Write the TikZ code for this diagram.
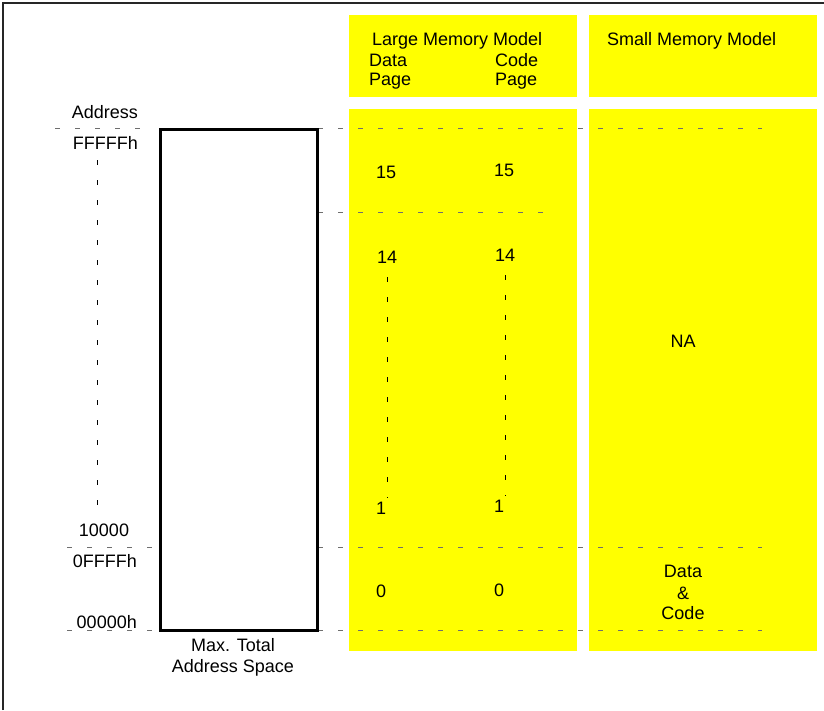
\documentclass[tikz,border=0pt]{standalone}
\usepackage{fontspec}
\setmainfont{Liberation Sans}
\definecolor{ylw}{RGB}{255,255,0}
\definecolor{dashgray}{RGB}{110,110,110}
\begin{document}
\begin{tikzpicture}[x=1pt,y=-1pt,
  txt/.style={inner sep=0pt,font=\fontsize{18}{21}\selectfont},
  hdash/.style={draw=dashgray,line width=1pt,dash pattern=on 5pt off 15pt},
  vdot/.style={draw=black,line width=1pt,dash pattern=on 5pt off 15pt}]
\useasboundingbox (0,0) rectangle (824,710);
% outer frame (top and left)
\draw[line width=2pt,black!85] (3,710) -- (3,3) -- (824,3);
% yellow panels
\fill[ylw] (349,15) rectangle (577,97);
\fill[ylw] (589,15) rectangle (817,97);
\fill[ylw] (349,109) rectangle (577,651);
\fill[ylw] (589,109) rectangle (817,651);
% coordinates for dashed guide lines
\coordinate (t0) at (55,128);   \coordinate (t1) at (145,128);
\coordinate (t2) at (318,128);  \coordinate (t3) at (762,128);
\coordinate (m2) at (318,212);  \coordinate (m3) at (545,212);
\coordinate (a0) at (67,547);   \coordinate (a1) at (152,547);
\coordinate (a2) at (318,547);  \coordinate (a3) at (762,547);
\coordinate (b0) at (67,630);   \coordinate (b1) at (152,630);
\coordinate (b2) at (318,630);  \coordinate (b3) at (762,630);
\draw[hdash] (t0) -- (t1);
\draw[hdash] (t2) -- (t3);
\draw[hdash] (m2) -- (m3);
\draw[hdash] (a0) -- (a1);
\draw[hdash] (a2) -- (a3);
\draw[hdash] (b0) -- (b1);
\draw[hdash] (b2) -- (b3);
% main box
\node[draw,line width=3pt,minimum width=157pt,minimum height=501pt,inner sep=0pt] (space) at (238.5,379.5) {};
% vertical dotted lines
\coordinate (v0) at (97,160);  \coordinate (v1) at (97,505);
\coordinate (d0) at (387,277); \coordinate (d1) at (387,498);
\coordinate (c0) at (505,275); \coordinate (c1) at (505,496);
\draw[vdot] (v0) -- (v1);
\draw[vdot] (d0) -- (d1);
\draw[vdot] (c0) -- (c1);
% address labels
\node[txt,anchor=base east] (addr) at (138,118) {Address};
\node[txt,anchor=base east] (ffffff) at (138,149) {FFFFFh};
\node[txt,anchor=base] (tenk) at (104,536) {10000};
\node[txt,anchor=base east] (offff) at (137,567) {0FFFFh};
\node[txt,anchor=base east] (zero) at (137,628) {00000h};
\node[txt,anchor=base] (max1) at (233,651) {Max. Total};
\node[txt,anchor=base] (max2) at (233,672) {Address Space};
% headers
\node[txt,anchor=base west] (lmm) at (372,45) {Large Memory Model};
\node[txt,anchor=base west] (dp1) at (369,66) {Data};
\node[txt,anchor=base west] (dp2) at (369,85) {Page};
\node[txt,anchor=base west] (cp1) at (495,66) {Code};
\node[txt,anchor=base west] (cp2) at (495,85) {Page};
\node[txt,anchor=base west] (smm) at (607,45) {Small Memory Model};
% page numbers
\node[txt,anchor=base west] (d15) at (376,178) {15};
\node[txt,anchor=base west] (c15) at (494,176) {15};
\node[txt,anchor=base west] (d14) at (377,263) {14};
\node[txt,anchor=base west] (c14) at (495,261) {14};
\node[txt,anchor=base west] (d1) at (376,514) {1};
\node[txt,anchor=base west] (c1n) at (494,512) {1};
\node[txt,anchor=base west] (d0n) at (376,597) {0};
\node[txt,anchor=base west] (c0n) at (494,596) {0};
% small model
\node[txt,anchor=base] (na) at (683,347) {NA};
\node[txt,anchor=base] (sd) at (683,577) {Data};
\node[txt,anchor=base] (sa) at (683,599) {\&};
\node[txt,anchor=base] (sc) at (683,619) {Code};
\end{tikzpicture}
\end{document}
